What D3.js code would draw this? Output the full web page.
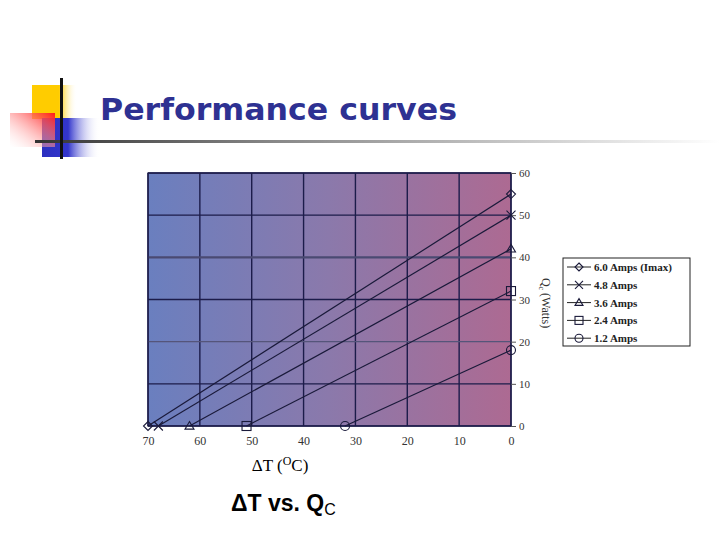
<!DOCTYPE html>
<html><head><meta charset="utf-8">
<script src="https://cdn.jsdelivr.net/npm/d3@7"></script>
<style>body{margin:0;background:#fff}svg{display:block}</style>
</head><body>
<svg id="c" width="720" height="540"></svg>
<script>
const seriesNames = ["6.0 Amps (Imax)", "4.8 Amps", "3.6 Amps", "2.4 Amps", "1.2 Amps"];
const seriesMarkers = ["diamond", "cross", "triangle", "square", "circle"];
const dtMaxValues = [70, 68, 62, 51, 32];   // ΔT at Qc = 0
const qcMaxValues = [55, 50, 42, 32, 18];   // Qc at ΔT = 0
const xTicks = [70, 60, 50, 40, 30, 20, 10, 0];
const yTicks = [0, 10, 20, 30, 40, 50, 60];

const svg = d3.select("#c");
const defs = svg.append("defs");

// ---- decorative slide header ----
const gY = defs.append("linearGradient").attr("id","gy");
gY.append("stop").attr("offset","0").attr("stop-color","#ffcc00");
gY.append("stop").attr("offset","0.6").attr("stop-color","#ffcc00");
gY.append("stop").attr("offset","1").attr("stop-color","#fff").attr("stop-opacity",0);
const gB = defs.append("linearGradient").attr("id","gb");
gB.append("stop").attr("offset","0").attr("stop-color","#2b2fc0");
gB.append("stop").attr("offset","0.45").attr("stop-color","#3336cc");
gB.append("stop").attr("offset","1").attr("stop-color","#fff").attr("stop-opacity",0);
const gR = defs.append("linearGradient").attr("id","gr").attr("x1","1").attr("y1","0").attr("x2","0").attr("y2","1");
gR.append("stop").attr("offset","0").attr("stop-color","#ff1a1a");
gR.append("stop").attr("offset","1").attr("stop-color","#fff").attr("stop-opacity",0.2);
const gL = defs.append("linearGradient").attr("id","gl");
gL.append("stop").attr("offset","0").attr("stop-color","#333");
gL.append("stop").attr("offset","0.35").attr("stop-color","#888");
gL.append("stop").attr("offset","1").attr("stop-color","#fff");

svg.append("rect").attr("x",32).attr("y",85).attr("width",45).attr("height",34).attr("fill","url(#gy)");
svg.append("rect").attr("x",42).attr("y",118).attr("width",58).attr("height",39).attr("fill","url(#gb)");
svg.append("rect").attr("x",10).attr("y",113).attr("width",45).attr("height",34).attr("fill","url(#gr)");
svg.append("rect").attr("x",35).attr("y",140).attr("width",685).attr("height",3).attr("fill","url(#gl)");
svg.append("rect").attr("x",60).attr("y",78).attr("width",3).attr("height",81).attr("fill","#111");

svg.append("text").attr("x",100).attr("y",120)
  .attr("font-family","DejaVu Sans, Verdana, sans-serif").attr("font-weight","bold")
  .attr("font-size",30).attr("fill","#2e3192")
  .attr("textLength",357).attr("lengthAdjust","spacingAndGlyphs")
  .text("Performance curves");

// ---- chart ----
const L = 148, R = 511, T = 173, B = 426;
const x = d3.scaleLinear().domain([70, 0]).range([L, R]);
const y = d3.scaleLinear().domain([0, 60]).range([B, T]);

const gBg = defs.append("linearGradient").attr("id","bg");
gBg.append("stop").attr("offset","0").attr("stop-color","#6a7fbf");
gBg.append("stop").attr("offset","0.5").attr("stop-color","#8b79ab");
gBg.append("stop").attr("offset","1").attr("stop-color","#ad6a92");
svg.append("rect").attr("x",L).attr("y",T).attr("width",R-L).attr("height",B-T).attr("fill","url(#bg)");

const grid = svg.append("g").attr("stroke","#1c1c4a").attr("stroke-width",1.4);
grid.selectAll("line.v").data(xTicks).join("line")
  .attr("x1",d=>x(d)).attr("x2",d=>x(d)).attr("y1",T).attr("y2",B);
grid.selectAll("line.h").data(yTicks).join("line")
  .attr("x1",L).attr("x2",R).attr("y1",d=>y(d)).attr("y2",d=>y(d))
  .attr("stroke", d => d===40 ? "#4a4a72" : (d===20 ? "#55557a" : "#1c1c4a"))
  .attr("stroke-width", d => d===40 ? 2.2 : 1.4);
svg.append("rect").attr("x",L).attr("y",T).attr("width",R-L).attr("height",B-T)
  .attr("fill","none").attr("stroke","#1c1c4a").attr("stroke-width",1.2);

// axes
const xAxis = svg.append("g").attr("transform",`translate(0,${B})`)
  .call(d3.axisBottom(x).tickValues(xTicks).tickSize(0).tickPadding(10));
xAxis.select(".domain").remove();
xAxis.selectAll("text").attr("font-family","Liberation Serif, Times New Roman, serif")
  .attr("font-size",12).attr("fill","#333");

const yAxis = svg.append("g").attr("transform",`translate(${R},0)`)
  .call(d3.axisRight(y).tickValues(yTicks).tickSize(5).tickPadding(3));
yAxis.select(".domain").remove();
yAxis.selectAll("line").attr("stroke","#555");
yAxis.selectAll("text").attr("font-family","Liberation Serif, Times New Roman, serif")
  .attr("font-size",11).attr("fill","#333");

const yl = svg.append("text").attr("transform","translate(542,303) rotate(90)")
  .attr("text-anchor","middle").attr("font-family","Liberation Serif, Times New Roman, serif")
  .attr("font-size",12).attr("fill","#333");
yl.append("tspan").text("Q");
yl.append("tspan").attr("font-size",8).attr("dy",3).text("c");
yl.append("tspan").attr("dy",-3).text(" (Watts)");

// markers
function marker(g, type, cx, cy, s) {
  s = s || 4.5;
  const st = {fill:"none", stroke:"#1a1a3a", "stroke-width":1.1};
  let el;
  if (type==="diamond") el = g.append("path").attr("d",`M${cx},${cy-s}L${cx+s},${cy}L${cx},${cy+s}L${cx-s},${cy}Z`);
  else if (type==="cross") el = g.append("path").attr("d",`M${cx-s},${cy-s}L${cx+s},${cy+s}M${cx-s},${cy+s}L${cx+s},${cy-s}`);
  else if (type==="triangle") el = g.append("path").attr("d",`M${cx},${cy-s}L${cx+s},${cy+s*0.7}L${cx-s},${cy+s*0.7}Z`);
  else if (type==="square") el = g.append("rect").attr("x",cx-s).attr("y",cy-s).attr("width",2*s).attr("height",2*s);
  else el = g.append("circle").attr("cx",cx).attr("cy",cy).attr("r",s);
  Object.entries(st).forEach(([k,v])=>el.attr(k,v));
}

const line = d3.line().x(d=>x(d.dt)).y(d=>y(d.q));
const series = seriesNames.map((n,i)=>({name:n, marker:seriesMarkers[i],
  pts:[{dt:dtMaxValues[i], q:0},{dt:0, q:qcMaxValues[i]}]}));
const sg = svg.append("g");
series.forEach(s=>{
  sg.append("path").attr("d",line(s.pts)).attr("fill","none").attr("stroke","#1a1a3a").attr("stroke-width",1.2);
  s.pts.forEach(p=>marker(sg, s.marker, x(p.dt), y(p.q)));
});

// legend
const lg = svg.append("g");
lg.append("rect").attr("x",563).attr("y",258).attr("width",127).attr("height",88)
  .attr("fill","#fff").attr("stroke","#222").attr("stroke-width",1);
series.forEach((s,i)=>{
  const ly = 267 + i*17.8;
  lg.append("line").attr("x1",567).attr("x2",591).attr("y1",ly).attr("y2",ly).attr("stroke","#222").attr("stroke-width",1);
  marker(lg, s.marker, 579, ly, 4);
  lg.append("text").attr("x",594).attr("y",ly+4).attr("font-family","Liberation Serif, Times New Roman, serif")
    .attr("font-weight","bold").attr("font-size",11).attr("fill","#222").text(s.name);
});

// x caption
const xc = svg.append("text").attr("x",280).attr("y",471).attr("text-anchor","middle")
  .attr("font-family","Liberation Serif, Times New Roman, serif").attr("font-size",17).attr("fill","#000");
xc.append("tspan").text("ΔT (");
xc.append("tspan").attr("font-size",12).attr("dy",-6).text("O");
xc.append("tspan").attr("dy",6).text("C)");

const st = svg.append("text").attr("x",231).attr("y",511)
  .attr("font-family","Liberation Sans, Arial, sans-serif").attr("font-size",23).attr("fill","#000");
st.append("tspan").attr("font-weight","bold").text("ΔT vs. Q");
st.append("tspan").attr("font-size",16).attr("dy",4).text("C");
</script>
</body></html>
